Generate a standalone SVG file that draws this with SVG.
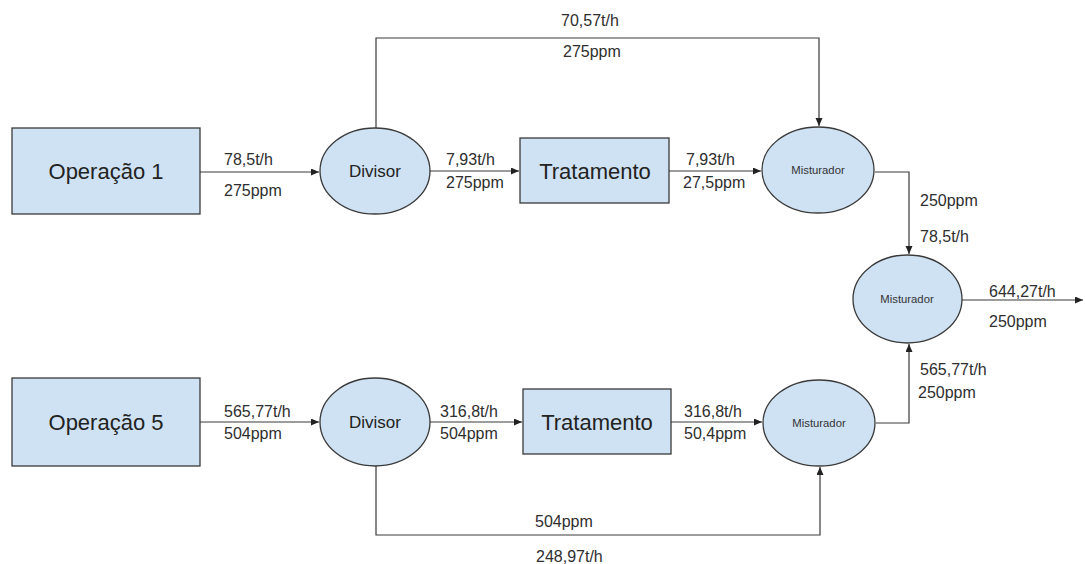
<svg xmlns="http://www.w3.org/2000/svg" width="1085" height="564" viewBox="0 0 1085 564">
  <style>
    .box { fill: #cfe2f3; stroke: #3a3a3a; stroke-width: 1.3; }
    .node { fill: #cfe2f3; stroke: #3a3a3a; stroke-width: 1.3; }
    .big { font-family: "Liberation Sans", Arial, sans-serif; font-size: 22px; fill: #222; text-anchor: middle; }
    .mid { font-family: "Liberation Sans", Arial, sans-serif; font-size: 17px; fill: #222; text-anchor: middle; }
    .small { font-family: "Liberation Sans", Arial, sans-serif; font-size: 11.3px; fill: #333; text-anchor: middle; }
    .lbl { font-family: "Liberation Sans", Arial, sans-serif; font-size: 16px; fill: #2e2e2e; }
    .flow { fill: none; stroke: #3a3a3a; stroke-width: 1.2; }
  </style>
  <defs>
    <marker id="arrow" markerUnits="userSpaceOnUse" markerWidth="9" markerHeight="8" refX="8" refY="3.5" orient="auto">
      <path d="M0,0 L8,3.5 L0,7 z" fill="#222"/>
    </marker>
  </defs>
  <rect width="1085" height="564" fill="#ffffff"/>

  <!-- connectors -->
  <g id="connectors">
    <path class="flow" d="M200,172 H319" marker-end="url(#arrow)"/>
    <path class="flow" d="M430,171 H519" marker-end="url(#arrow)"/>
    <path class="flow" d="M669,171 H761" marker-end="url(#arrow)"/>
    <path class="flow" d="M376,128 V38 H819 V126" marker-end="url(#arrow)"/>
    <path class="flow" d="M875,172 H909 V254" marker-end="url(#arrow)"/>
    <path class="flow" d="M962,300 H1083" marker-end="url(#arrow)"/>
    <path class="flow" d="M200,422 H319" marker-end="url(#arrow)"/>
    <path class="flow" d="M430,422 H522" marker-end="url(#arrow)"/>
    <path class="flow" d="M671,422 H762" marker-end="url(#arrow)"/>
    <path class="flow" d="M376,466 V535 H820 V467" marker-end="url(#arrow)"/>
    <path class="flow" d="M876,423 H909 V344" marker-end="url(#arrow)"/>

    <!-- stream labels -->
    <text class="lbl" x="224" y="165">78,5t/h</text>
    <text class="lbl" x="224" y="196">275ppm</text>
    <text class="lbl" x="446" y="165">7,93t/h</text>
    <text class="lbl" x="446" y="188">275ppm</text>
    <text class="lbl" x="686" y="165">7,93t/h</text>
    <text class="lbl" x="683" y="188">27,5ppm</text>
    <text class="lbl" x="561" y="26">70,57t/h</text>
    <text class="lbl" x="563" y="57">275ppm</text>
    <text class="lbl" x="920" y="206">250ppm</text>
    <text class="lbl" x="920" y="242">78,5t/h</text>
    <text class="lbl" x="989" y="297">644,27t/h</text>
    <text class="lbl" x="989" y="327">250ppm</text>
    <text class="lbl" x="920" y="375">565,77t/h</text>
    <text class="lbl" x="918" y="398">250ppm</text>
    <text class="lbl" x="224" y="417">565,77t/h</text>
    <text class="lbl" x="224" y="439">504ppm</text>
    <text class="lbl" x="440" y="417">316,8t/h</text>
    <text class="lbl" x="440" y="439">504ppm</text>
    <text class="lbl" x="684" y="417">316,8t/h</text>
    <text class="lbl" x="684" y="439">50,4ppm</text>
    <text class="lbl" x="535" y="527">504ppm</text>
    <text class="lbl" x="536" y="562">248,97t/h</text>
  </g>

  <!-- upper line -->
  <g id="operacao1">
    <rect class="box" x="12" y="128" width="188" height="86"/>
    <text class="big" x="106" y="179">Operação 1</text>
  </g>
  <g id="divisor1">
    <ellipse class="node" cx="375" cy="171" rx="55" ry="43"/>
    <text class="mid" x="375" y="177">Divisor</text>
  </g>
  <g id="tratamento1">
    <rect class="box" x="520" y="138" width="149" height="65"/>
    <text class="big" x="595" y="179">Tratamento</text>
  </g>
  <g id="misturador1">
    <ellipse class="node" cx="818" cy="170" rx="56" ry="43"/>
    <text class="small" x="818" y="174">Misturador</text>
  </g>

  <!-- final mixer -->
  <g id="misturador-final">
    <ellipse class="node" cx="907.5" cy="299" rx="54.5" ry="44"/>
    <text class="small" x="907" y="303">Misturador</text>
  </g>

  <!-- lower line -->
  <g id="operacao5">
    <rect class="box" x="12" y="378" width="188" height="88"/>
    <text class="big" x="106" y="430">Operação 5</text>
  </g>
  <g id="divisor5">
    <ellipse class="node" cx="375" cy="422" rx="55" ry="44"/>
    <text class="mid" x="375" y="428">Divisor</text>
  </g>
  <g id="tratamento5">
    <rect class="box" x="523" y="389" width="148" height="65"/>
    <text class="big" x="597" y="430">Tratamento</text>
  </g>
  <g id="misturador5">
    <ellipse class="node" cx="819" cy="423" rx="56" ry="43"/>
    <text class="small" x="819" y="427">Misturador</text>
  </g>
</svg>
